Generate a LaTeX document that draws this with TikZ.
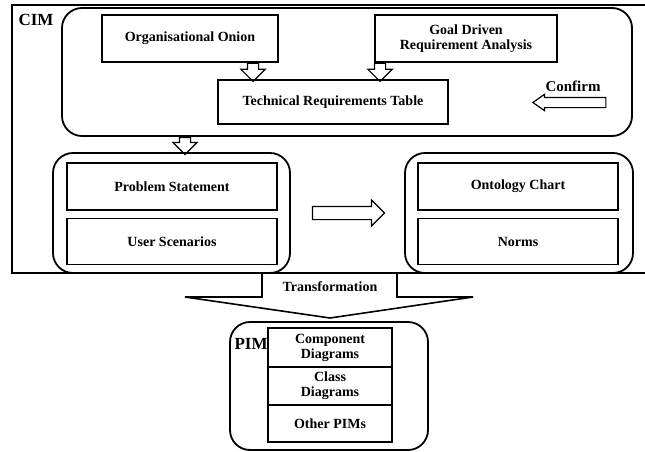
\documentclass[tikz,border=0pt]{standalone}
\usepackage{fontspec}
\setmainfont{Liberation Serif}
\usetikzlibrary{shapes,arrows,calc,positioning}

\begin{document}
\begin{tikzpicture}[
	x=1pt, y=-1pt,
	font=\fontsize{14}{15}\selectfont\bfseries
	]
\tikzset{
	base/.style = { rectangle, align=center, draw=black, line width=1.6pt, inner sep=0pt },
	box/.style = { base, minimum width=#1, minimum height=47 },
	group/.style = { base, rounded corners=20, line width=1.8pt },
	stackbox/.style = { base, line width=1.1pt, outer sep=0pt, minimum width=124 },
	hollow/.style = { single arrow, draw=black, line width=1.2pt, single arrow head extend=6.5pt, minimum height=#1 },
	hollowdown/.style = { hollow=#1, shape border rotate=270, inner xsep=5pt, inner ysep=0pt },
	hollowside/.style = { hollow=#1, inner xsep=0pt, inner ysep=6pt },
	frame/.style = { line width=1.8pt },
	title/.style = { font=\fontsize{17}{18}\selectfont\bfseries }
}
	\useasboundingbox (0,0) rectangle (645,452);

	% CIM frame
	\draw [frame] (645,5) -| (12,273) -- (645,273);
	\node (cim) [title, anchor=west] at (15,20) {CIM};

	% top part
	\node (cimTop) [group, minimum width=570, minimum height=128] at (347,72) {};
	\node (onion) [box=176] at (190,38.5) {Organisational Onion};
	\node (goal) [box=182] at (466,38.5) {Goal Driven\\Requirement Analysis};
	\node (techTable) [box=230, minimum height=44] at (333,102) {Technical Requirements Table};

	\node (onionArrow) [hollowdown=18, anchor=tail] at ([xshift=63pt]onion.south) {};
	\node (goalArrow) [hollowdown=18, anchor=tail] at ([xshift=-86pt]goal.south) {};

	\node (confirmArrow) [hollowside=73, shape border rotate=180, inner ysep=4.5pt, single arrow head extend=3pt, single arrow tip angle=70] at (573,102.5) {};
	\node (confirm) [font=\fontsize{15}{16}\selectfont\bfseries] at (573,86) {Confirm};

	\node (downArrow) [hollowdown=17, anchor=tail] at ([xshift=-162pt]cimTop.south) {};

	% left and right groups
	\node (probGroup) [group, minimum width=237, minimum height=120] at (171.5,213) {};
	\node (prob) [box=210] at (172,186.5) {Problem Statement};
	\node (user) [box=210, minimum height=46, below=7pt of prob] {User Scenarios};

	\node (ontGroup) [group, minimum width=228, minimum height=120] at (519,213) {};
	\node (ont) [box=200] at (518,186.5) {Ontology Chart};
	\node (norms) [box=200, minimum height=46, below=7pt of ont] {Norms};

	\node (midArrow) [hollowside=72, anchor=tail] at ([xshift=21pt]probGroup.east) {};

	% transformation
	\draw [line width=1.6pt, line join=miter] (262,273) -- (262,297) -- (185,297) -- (330,318) -- (473,297) -- (397,297) -- (397,273);
	\node (transform) at (330,287) {Transformation};

	% PIM
	\node (pimGroup) [group, minimum width=198, minimum height=128] at (329,386) {};
	\node (comp) [stackbox, minimum height=39] at (330,347.5) {Component\\Diagrams};
	\node (class) [stackbox, minimum height=38, below=0pt of comp] {Class\\Diagrams};
	\node (other) [stackbox, minimum height=37, below=0pt of class] {Other PIMs};
	\node (pim) [title, anchor=west] at (231,344) {PIM};

\end{tikzpicture}
\end{document}
